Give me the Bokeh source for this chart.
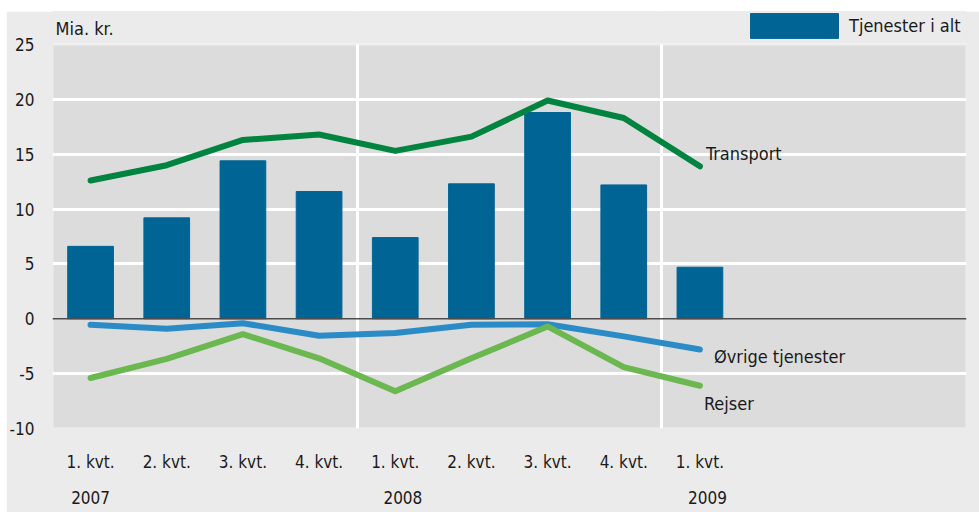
from bokeh.plotting import figure
from bokeh.layouts import column, row
from bokeh.models import FixedTicker, Label, Legend, LegendItem, Span, LinearAxis, BoxAnnotation, Spacer
from bokeh.embed import file_html
from bokeh.resources import INLINE

quarters = ["1. kvt.", "2. kvt.", "3. kvt.", "4. kvt.", "1. kvt.", "2. kvt.", "3. kvt.", "4. kvt.", "1. kvt."]
years = ["2007", "2008", "2009"]
year_tick_pos = [0, 4.1, 8.1]
y_ticks = [-10, -5, 0, 5, 10, 15, 20, 25]
tjenester_i_alt = [6.6, 9.2, 14.4, 11.6, 7.4, 12.3, 18.8, 12.2, 4.7]
transport = [12.6, 14.0, 16.3, 16.8, 15.3, 16.6, 19.9, 18.3, 13.9]
ovrige = [-0.55, -0.9, -0.4, -1.55, -1.3, -0.55, -0.5, -1.6, -2.8]
rejser = [-5.4, -3.65, -1.4, -3.6, -6.6, -3.6, -0.7, -4.4, -6.1]

FONT = "DejaVu Sans Condensed, Liberation Sans"
TXT = "#1a1a1a"
FS = "17px"
FS_LAB = "18px"
xs = list(range(len(quarters)))

Y_MIN, Y_MAX = -10, 25
X_MIN, X_MAX = -0.5, 11.5
plot_px = 384.0                      # pixel height of the grey plotting area
ppu = plot_px / (Y_MAX - Y_MIN)
top_px = 33                          # room above plotting area inside the frame (legend, unit)
frame_top = Y_MAX + top_px / ppu

p = figure(width=973, height=501, x_range=(X_MIN, X_MAX), y_range=(Y_MIN, frame_top),
           output_backend="svg", toolbar_location=None, title=None,
           min_border_left=46, min_border_right=13, min_border_top=0, min_border_bottom=84)
p.border_fill_color = "#ebebeb"
p.background_fill_color = "#dcdcdc"
p.outline_line_color = None

p.xgrid.ticker = FixedTicker(ticks=[3.5, 7.5])
p.xgrid.grid_line_color = "white"
p.xgrid.grid_line_width = 3
p.ygrid.ticker = FixedTicker(ticks=[-5, 5, 10, 15, 20])
p.ygrid.grid_line_color = "white"
p.ygrid.grid_line_width = 3

# cover the strip above the plotting area, then draw the white frame of the plotting area
p.add_layout(BoxAnnotation(bottom=Y_MAX, fill_color="#ebebeb", fill_alpha=1, line_color=None, level="underlay"))
p.add_layout(BoxAnnotation(bottom=Y_MIN, top=Y_MAX, left=X_MIN, right=X_MAX, fill_alpha=0,
                           line_color="white", line_width=3, level="underlay"))

bars = p.vbar(x=xs, top=tjenester_i_alt, width=0.6, color="#006495")
p.add_layout(Span(location=0, dimension="width", line_color="#4d4d4d", line_width=1.5))
p.line(xs, ovrige, line_width=6, line_color="#2a8bc6", line_cap="round", line_join="round")
p.line(xs, rejser, line_width=6, line_color="#6bb750", line_cap="round", line_join="round")
p.line(xs, transport, line_width=6, line_color="#00843f", line_cap="round", line_join="round")

year_axis = LinearAxis()
p.add_layout(year_axis, "below")

for ax in (p.xaxis[0], p.yaxis[0], year_axis):
    ax.axis_line_color = None
    ax.major_tick_line_color = None
    ax.minor_tick_line_color = None
    ax.major_tick_out = 0
    ax.major_tick_in = 0
    ax.major_label_text_font = FONT
    ax.major_label_text_color = TXT
    ax.major_label_text_font_size = FS

p.xaxis[0].ticker = FixedTicker(ticks=xs)
p.xaxis[0].major_label_overrides = {i: q for i, q in zip(xs, quarters)}
p.xaxis[0].major_label_standoff = 23
year_axis.ticker = FixedTicker(ticks=year_tick_pos)
year_axis.major_label_overrides = {t: y for t, y in zip(year_tick_pos, years)}
year_axis.major_label_standoff = 16
p.yaxis[0].ticker = FixedTicker(ticks=y_ticks)
p.yaxis[0].major_label_overrides = {t: str(t) for t in y_ticks}
p.yaxis[0].major_label_standoff = 18

p.add_layout(Label(x=X_MIN, y=Y_MAX, x_offset=3, y_offset=6, text="Mia. kr.", text_baseline="bottom",
                   text_font=FONT, text_font_size=FS_LAB, text_color=TXT))

p.add_layout(Label(x=xs[-1], y=transport[-1], x_offset=6, y_offset=13, text="Transport", text_baseline="middle",
                   text_font=FONT, text_font_size=FS_LAB, text_color=TXT))
p.add_layout(Label(x=xs[-1], y=ovrige[-1], x_offset=14, y_offset=-7, text="Øvrige tjenester", text_baseline="middle",
                   text_font=FONT, text_font_size=FS_LAB, text_color=TXT))
p.add_layout(Label(x=xs[-1], y=rejser[-1], x_offset=4, y_offset=-18, text="Rejser", text_baseline="middle",
                   text_font=FONT, text_font_size=FS_LAB, text_color=TXT))

legend = Legend(items=[LegendItem(label="Tjenester i alt", renderers=[bars])],
                location=(687, 387), glyph_width=110, glyph_height=31, padding=0, margin=0,
                spacing=0, label_standoff=-6, label_text_font=FONT, label_text_font_size=FS_LAB,
                label_text_color=TXT, border_line_alpha=0, background_fill_alpha=0)
p.add_layout(legend)

layout = row(Spacer(width=6, height=512), column(Spacer(width=973, height=11), p, spacing=0), spacing=0)
open("out.html", "w").write(file_html(layout, INLINE))
